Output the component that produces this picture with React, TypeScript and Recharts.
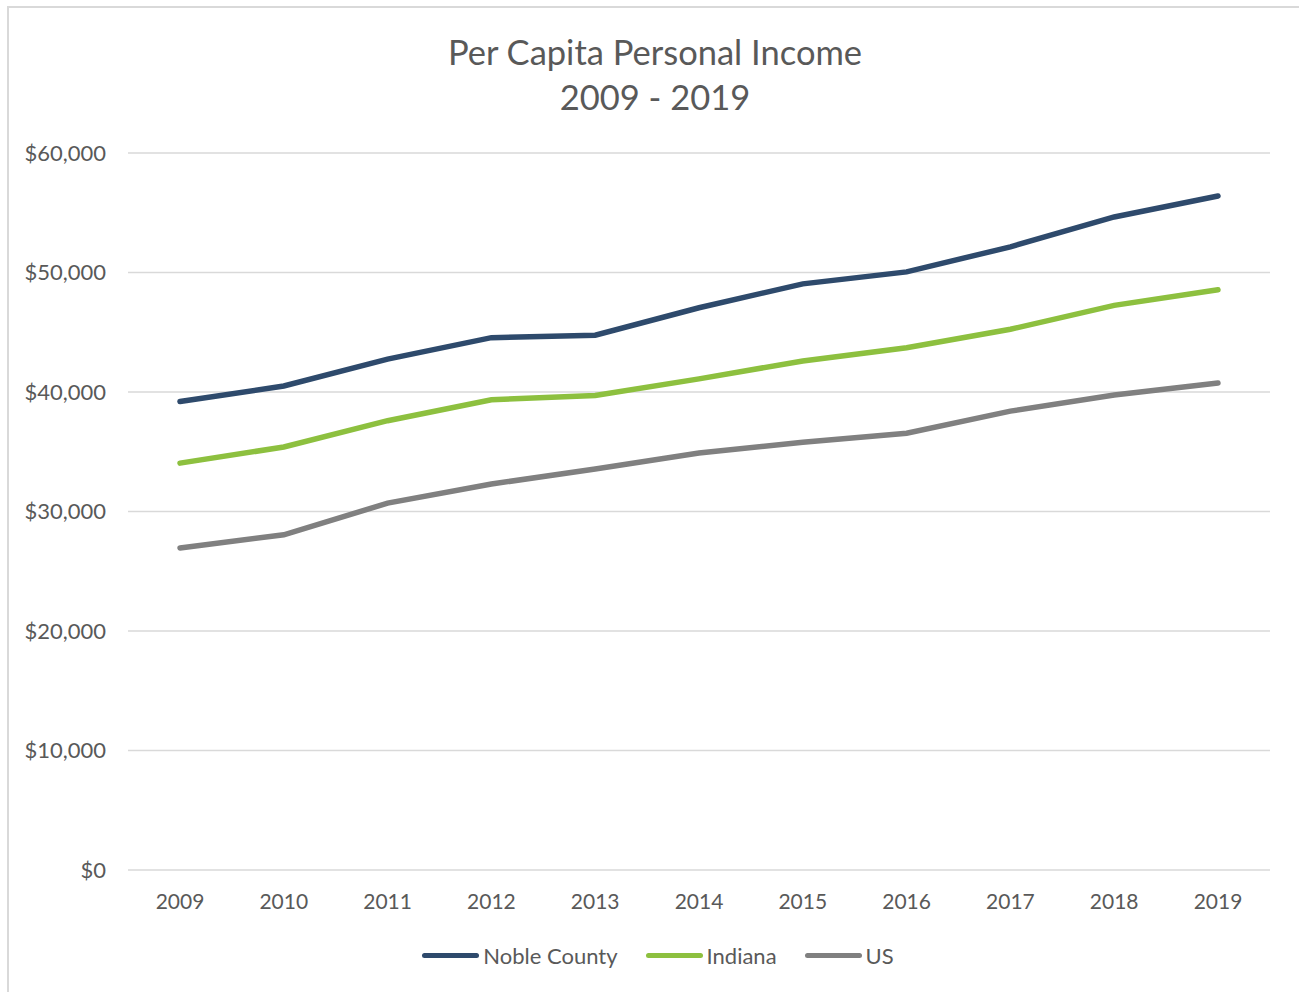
import React from "react";
import { LineChart, Line, XAxis, YAxis, CartesianGrid } from "recharts";

const years = ["2009", "2010", "2011", "2012", "2013", "2014", "2015", "2016", "2017", "2018", "2019"];
const nobleCounty = [39200, 40500, 42750, 44550, 44750, 47050, 49050, 50050, 52150, 54650, 56400];
const indiana = [34050, 35400, 37600, 39350, 39700, 41100, 42600, 43700, 45250, 47250, 48550];
const us = [26950, 28050, 30700, 32300, 33550, 34900, 35800, 36550, 38400, 39750, 40750];
const yTicks = [0, 10000, 20000, 30000, 40000, 50000, 60000];

const seriesNames = ["Noble County", "Indiana", "US"];
const seriesColors = ["#2E4A6C", "#8DC03F", "#808080"];

const data = years.map((y, i) => ({
  year: y,
  noble: nobleCounty[i],
  indiana: indiana[i],
  us: us[i],
}));

const FONT = "Lato, 'Open Sans', sans-serif";
const TEXT = "#595959";

const fmt = (v: number) => "$" + v.toLocaleString("en-US");

export default function App() {
  return (
    <div style={{ position: "absolute", left: 0, top: 0, width: 1299, height: 992, background: "#fff", overflow: "hidden", fontFamily: FONT }}>
      <div style={{ position: "absolute", left: 7, top: 6, width: 1400, height: 1100, border: "2px solid #D9D9D9", boxSizing: "border-box" }} />
      <div style={{ position: "absolute", left: 0, top: 29, width: 1310, textAlign: "center", color: TEXT, fontSize: 34.5, lineHeight: "45px" }}>
        <div>Per Capita Personal Income</div>
        <div>2009 - 2019</div>
      </div>
      <div style={{ position: "absolute", left: 0, top: 0 }}>
        <LineChart width={1299} height={992} data={data} margin={{ top: 153, right: 29, bottom: 92, left: 28 }}>
          <CartesianGrid vertical={false} stroke="#D9D9D9" strokeWidth={1.5} />
          <XAxis
            dataKey="year"
            height={30}
            axisLine={false}
            tickLine={false}
            padding={{ left: 52, right: 52 }}
            tick={{ fill: TEXT, fontSize: 21, fontFamily: FONT }}
            tickMargin={18}
            interval={0}
          />
          <YAxis
            width={100}
            domain={[0, 60000]}
            ticks={yTicks}
            axisLine={false}
            tickLine={false}
            tickFormatter={fmt}
            tick={{ fill: TEXT, fontSize: 22, fontFamily: FONT }}
            tickMargin={16}
          />
          <Line dataKey="noble" name={seriesNames[0]} stroke={seriesColors[0]} strokeWidth={5.5} dot={false} isAnimationActive={false} strokeLinecap="round" />
          <Line dataKey="indiana" name={seriesNames[1]} stroke={seriesColors[1]} strokeWidth={5.5} dot={false} isAnimationActive={false} strokeLinecap="round" />
          <Line dataKey="us" name={seriesNames[2]} stroke={seriesColors[2]} strokeWidth={5.5} dot={false} isAnimationActive={false} strokeLinecap="round" />
        </LineChart>
      </div>
      <div style={{ position: "absolute", left: 0, top: 942, width: 1316, display: "flex", justifyContent: "center", alignItems: "center", color: TEXT, fontSize: 22 }}>
        {seriesNames.map((n, i) => (
          <div key={n} style={{ display: "flex", alignItems: "center", marginRight: i < 2 ? 28 : 0 }}>
            <div style={{ width: 57, height: 5, borderRadius: 3, background: seriesColors[i], marginRight: 4 }} />
            <span>{n}</span>
          </div>
        ))}
      </div>
    </div>
  );
}
